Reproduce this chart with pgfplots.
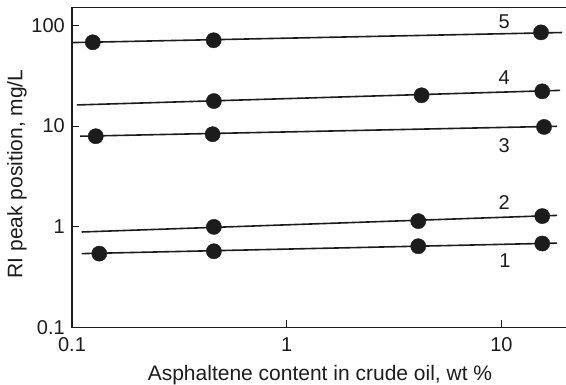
\documentclass[border=0pt]{standalone}
\usepackage{pgfplots}
\pgfplotsset{compat=1.18}
\usepackage{fontspec}
\setmainfont{Liberation Sans}
\definecolor{ink}{HTML}{1C1C1C}

% Measured RI peak positions (x: asphaltene content, wt %; y: mg/L)
\pgfplotstableread{
x y
0.125 67.8
0.457 71.0
15.3 85.0
}\seriesfive
\pgfplotstableread{
x y
0.458 17.7
4.25 20.2
15.5 22.1
}\seriesfour
\pgfplotstableread{
x y
0.129 7.93
0.452 8.30
15.8 9.80
}\seriesthree
\pgfplotstableread{
x y
0.458 1.00
4.10 1.14
15.5 1.28
}\seriestwo
\pgfplotstableread{
x y
0.134 0.543
0.458 0.573
4.10 0.643
15.5 0.684
}\seriesone

% Fitted lines (end points)
\pgfplotstableread{
x y
0.100 67.3
19.2 84.7
}\fitfive
\pgfplotstableread{
x y
0.1055 16.2
18.8 22.6
}\fitfour
\pgfplotstableread{
x y
0.109 7.93
18.2 9.95
}\fitthree
\pgfplotstableread{
x y
0.111 0.89
18.2 1.30
}\fittwo
\pgfplotstableread{
x y
0.111 0.543
18.2 0.69
}\fitone

\pgfplotsset{
  fitline/.style={ink, line width=1.6pt, no marks},
  dots/.style={only marks, mark=*, mark size=7.6pt, mark options={fill=ink, draw=ink, line width=0.4pt}},
}

\begin{document}
\begin{tikzpicture}
\begin{axis}[
  scale only axis,
  width=496pt, height=320.2pt,
  xmode=log, ymode=log,
  xmin=0.1, xmax=20.43, ymin=0.1, ymax=150,
  axis line style={line width=1.3pt, color=ink},
  xtick pos=left, ytick pos=left,
  tick align=inside,
  major tick length=7.5pt,
  tick style={line width=1.1pt, color=ink},
  xminorticks=false, yminorticks=false,
  xtick={0.1,1,10}, xticklabels={0.1,1,10},
  ytick={0.1,1,10,100}, yticklabels={0.1,1,10,100},
  xticklabel style={font=\fontsize{20}{22}\selectfont, text=ink, anchor=north, inner sep=0pt, yshift=-10pt},
  yticklabel style={font=\fontsize{20}{22}\selectfont, text=ink, anchor=east, inner sep=0pt, xshift=-7pt},
  xlabel={Asphaltene content in crude oil, wt \%},
  ylabel={RI peak position, mg/L},
  every axis x label/.style={at={(axis description cs:0.5,0)}, yshift=-53pt, anchor=base,
    font=\fontsize{21}{24}\selectfont, text=ink},
  every axis y label/.style={at={(axis description cs:0,0.48)}, xshift=-55pt, rotate=90, anchor=center,
    font=\fontsize{21}{24}\selectfont, text=ink},
  clip=false,
]
\addplot[fitline] table {\fitfive};
\addplot[fitline] table {\fitfour};
\addplot[fitline] table {\fitthree};
\addplot[fitline] table {\fittwo};
\addplot[fitline] table {\fitone};

\addplot[dots] table {\seriesfive};
\addplot[dots] table {\seriesfour};
\addplot[dots] table {\seriesthree};
\addplot[dots] table {\seriestwo};
\addplot[dots] table {\seriesone};

\begin{scope}[font=\fontsize{20}{22}\selectfont, text=ink]
\node at (axis cs:10.3,108) {5};
\node at (axis cs:10.3,30.3) {4};
\node at (axis cs:10.3,6.46) {3};
\node at (axis cs:10.3,1.73) {2};
\node at (axis cs:10.4,0.464) {1};
\end{scope}
\end{axis}
\pgfresetboundingbox
\path[use as bounding box] (current axis.south west) ++(-72pt,-57.3pt) rectangle ++(566pt,385pt);
\end{tikzpicture}
\end{document}
